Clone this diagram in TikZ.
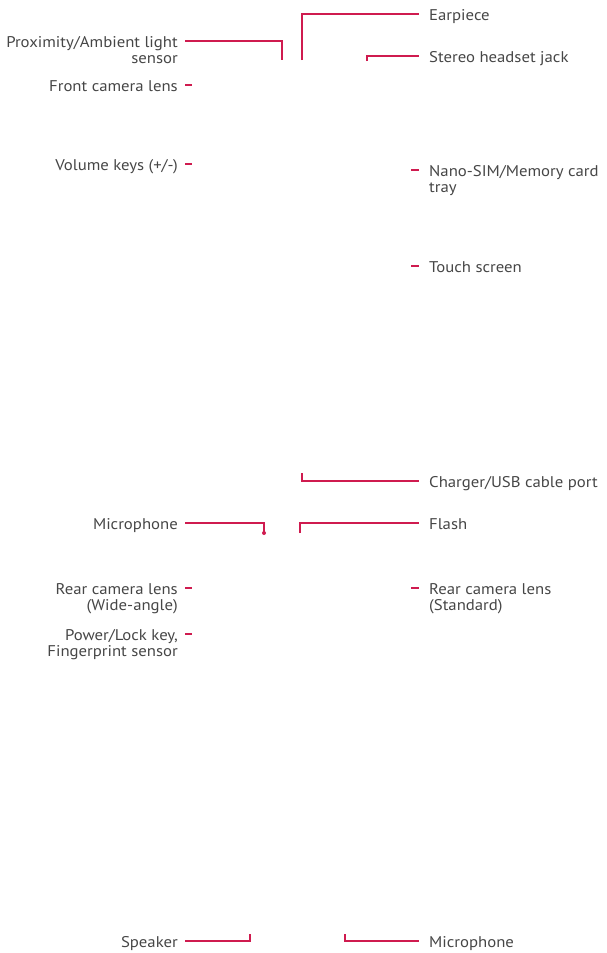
\documentclass[tikz,border=0pt]{standalone}
\usepackage{fontspec}
\setmainfont[FakeStretch=1.08]{PT Sans}
\definecolor{leadc}{HTML}{CF1B4F}
\definecolor{txt}{HTML}{464646}
\begin{document}
\begin{tikzpicture}[x=1pt,y=-1pt,
  lbl/.style={font=\fontsize{15.5}{16}\selectfont, text=txt, inner sep=0pt},
  rl/.style={lbl, anchor=base west, yshift=-6.5pt},
  ll/.style={lbl, anchor=base east, yshift=-6.5pt},
  rl2/.style={lbl, anchor=base west},
  ll2/.style={lbl, anchor=base east},
  leadline/.style={draw=leadc, line width=1.3pt}]
\useasboundingbox (0,0) rectangle (606,953);
% right labels
\node[rl] (ear) at (429,14) {Earpiece};
\node[rl] (jack) at (429,56) {Stereo headset jack};
\node[rl] (sim) at (429,170) {Nano-SIM/Memory card};
\node[rl2] (sim2) at ([yshift=-16pt]sim.base west) {tray};
\node[rl] (touch) at (429,266) {Touch screen};
\node[rl] (usb) at (429,481) {Charger/USB cable port};
\node[rl] (flash) at (429,523) {Flash};
\node[rl] (rstd) at (429,588) {Rear camera lens};
\node[rl2] (rstd2) at ([yshift=-16pt]rstd.base west) {(Standard)};
\node[rl] (mictwo) at (429,941) {Microphone};
% left labels
\node[ll] (prox) at (178,41) {Proximity/Ambient light};
\node[ll2] (prox2) at ([yshift=-16pt]prox.base east) {sensor};
\node[ll] (front) at (178,85) {Front camera lens};
\node[ll] (vol) at (178,164) {Volume keys (+/-)};
\node[ll] (micone) at (178,523) {Microphone};
\node[ll] (rwide) at (178,588) {Rear camera lens};
\node[ll2] (rwide2) at ([yshift=-16pt]rwide.base east) {(Wide-angle)};
\node[ll] (power) at (178,634) {Power/Lock key,};
\node[ll2] (power2) at ([yshift=-16pt]power.base east) {Fingerprint sensor};
\node[ll] (spk) at (178,941) {Speaker};
% coordinates
\coordinate (earA) at (302,60);
\coordinate (earB) at (419,14);
\coordinate (jackA) at (367,61);
\coordinate (jackB) at (419,56);
\coordinate (simA) at (411,170);
\coordinate (simB) at (419,170);
\coordinate (touchA) at (411,266);
\coordinate (touchB) at (419,266);
\coordinate (usbA) at (302,473);
\coordinate (usbB) at (419,481);
\coordinate (flashA) at (300,533);
\coordinate (flashB) at (419,523);
\coordinate (rstdA) at (411,588);
\coordinate (rstdB) at (419,588);
\coordinate (micB1) at (345,934);
\coordinate (micB2) at (419,941);
\coordinate (proxA) at (185,41);
\coordinate (proxB) at (282,60);
\coordinate (frontA) at (185,85);
\coordinate (frontB) at (192,85);
\coordinate (volA) at (185,164);
\coordinate (volB) at (192,164);
\coordinate (micA1) at (185,523);
\coordinate (micA2) at (264,533);
\coordinate (rwideA) at (185,588);
\coordinate (rwideB) at (192,588);
\coordinate (powerA) at (185,634);
\coordinate (powerB) at (192,634);
\coordinate (spkA) at (185,941);
\coordinate (spkB) at (250,934);
% connectors
\draw[leadline] (earA) |- (earB);
\draw[leadline] (jackA) |- (jackB);
\draw[leadline] (simA) -- (simB);
\draw[leadline] (touchA) -- (touchB);
\draw[leadline] (usbA) |- (usbB);
\draw[leadline] (flashA) |- (flashB);
\draw[leadline] (rstdA) -- (rstdB);
\draw[leadline] (micB1) |- (micB2);
\draw[leadline] (proxA) -| (proxB);
\draw[leadline] (frontA) -- (frontB);
\draw[leadline] (volA) -- (volB);
\draw[leadline] (micA1) -| (micA2);
\fill[leadc] (micA2) circle (2);
\draw[leadline] (rwideA) -- (rwideB);
\draw[leadline] (powerA) -- (powerB);
\draw[leadline] (spkA) -| (spkB);
\end{tikzpicture}
\end{document}
